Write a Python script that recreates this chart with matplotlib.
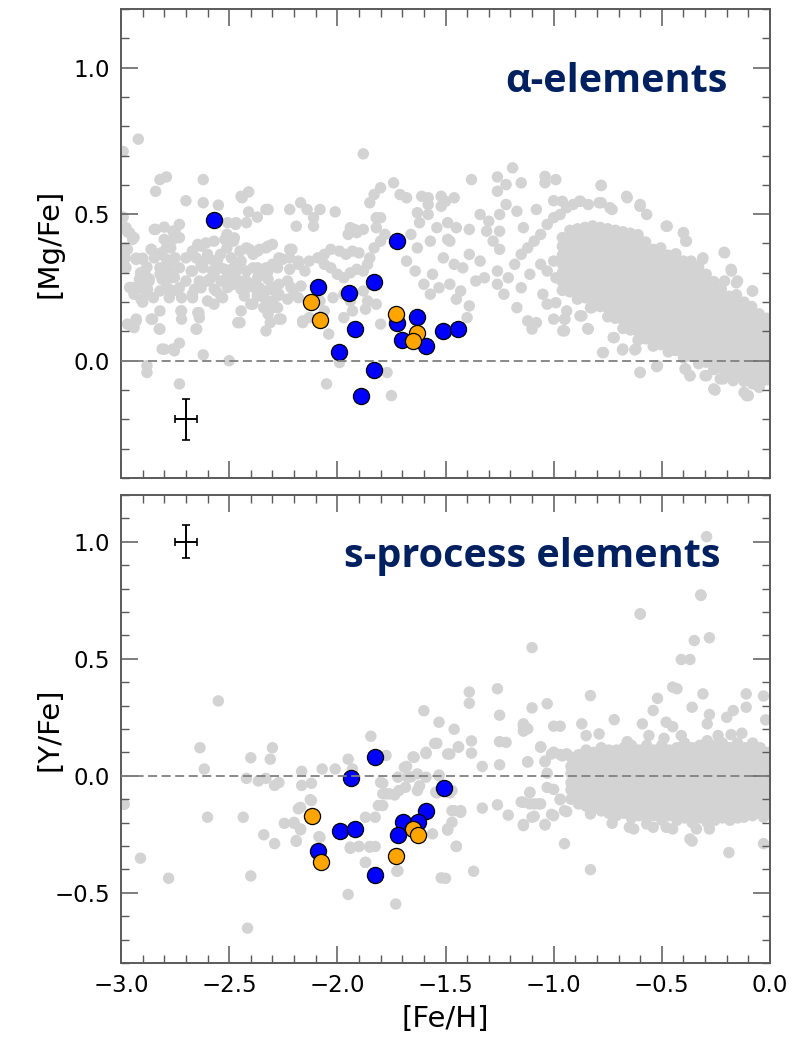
import matplotlib
matplotlib.use('Agg')
import matplotlib.pyplot as plt
import numpy as np
from matplotlib.ticker import MultipleLocator, FuncFormatter

# ---------------- data ----------------
# top panel: [Mg/Fe] vs [Fe/H]
mg_blue_feh = [-2.57, -2.09, -1.945, -1.918, -1.99, -1.83, -1.83, -1.89, -1.725,
               -1.723, -1.632, -1.703, -1.592, -1.51, -1.444]
mg_blue_val = [0.48, 0.25, 0.23, 0.11, 0.03, 0.27, -0.03, -0.12, 0.41,
               0.13, 0.15, 0.07, 0.05, 0.10, 0.11]
mg_orange_feh = [-2.122, -2.08, -1.73, -1.632, -1.652]
mg_orange_val = [0.20, 0.14, 0.16, 0.094, 0.068]

# scattered literature stars (halo + thick disc)
mg_halo = [
    (-2.99, 0.714), (-2.92, 0.756), (-2.99, 0.49), (-2.97, 0.44), (-2.94, 0.42), (-2.98, 0.385),
    (-2.98, 0.35), (-2.98, 0.32), (-2.93, 0.35), (-2.90, 0.35), (-2.88, 0.32), (-2.91, 0.30),
    (-2.87, 0.28), (-2.96, 0.25), (-2.91, 0.25), (-2.94, 0.227), (-2.90, 0.20), (-2.97, 0.125),
    (-2.93, 0.136), (-2.94, 0.113), (-2.84, 0.578), (-2.82, 0.618), (-2.79, 0.627), (-2.84, 0.448),
    (-2.80, 0.456), (-2.76, 0.442), (-2.73, 0.465), (-2.70, 0.546), (-2.62, 0.618), (-2.62, 0.539),
    (-2.55, 0.531), (-2.86, 0.38), (-2.82, 0.363), (-2.79, 0.385), (-2.76, 0.414), (-2.73, 0.42),
    (-2.76, 0.34), (-2.79, 0.317), (-2.82, 0.295), (-2.77, 0.283), (-2.73, 0.317), (-2.70, 0.351),
    (-2.67, 0.374), (-2.63, 0.391), (-2.60, 0.363), (-2.63, 0.329), (-2.67, 0.306), (-2.70, 0.272),
    (-2.73, 0.249), (-2.76, 0.238), (-2.79, 0.249), (-2.82, 0.238), (-2.85, 0.215), (-2.88, 0.227),
    (-2.72, 0.215), (-2.67, 0.227), (-2.63, 0.249), (-2.60, 0.272), (-2.57, 0.295), (-2.54, 0.317),
    (-2.57, 0.34), (-2.54, 0.363), (-2.51, 0.385), (-2.48, 0.408), (-2.51, 0.431), (-2.47, 0.465),
    (-2.44, 0.556), (-2.41, 0.576), (-2.41, 0.508), (-2.37, 0.490), (-2.33, 0.516), (-2.42, 0.471),
    (-2.45, 0.374), (-2.42, 0.385), (-2.39, 0.363), (-2.36, 0.380), (-2.33, 0.385), (-2.30, 0.397),
    (-2.48, 0.317), (-2.45, 0.329), (-2.42, 0.306), (-2.39, 0.317), (-2.36, 0.295), (-2.33, 0.317),
    (-2.30, 0.329), (-2.27, 0.351), (-2.51, 0.283), (-2.48, 0.261), (-2.45, 0.272), (-2.42, 0.249),
    (-2.39, 0.261), (-2.36, 0.249), (-2.33, 0.238), (-2.30, 0.249), (-2.27, 0.261), (-2.23, 0.272),
    (-2.56, 0.238), (-2.53, 0.215), (-2.60, 0.204), (-2.57, 0.193), (-2.43, 0.221), (-2.37, 0.221),
    (-2.34, 0.215), (-2.39, 0.193), (-2.34, 0.181), (-2.30, 0.204), (-2.27, 0.227), (-2.30, 0.181),
    (-2.32, 0.159), (-2.27, 0.142), (-2.31, 0.130), (-2.45, 0.130), (-2.40, 0.193), (-2.64, 0.164),
    (-2.72, 0.170), (-2.72, 0.142), (-2.82, 0.170), (-2.86, 0.142), (-2.82, 0.108), (-2.65, 0.108),
    (-2.81, 0.040), (-2.76, 0.040), (-2.73, 0.060), (-2.62, 0.020), (-2.88, -0.017), (-2.88, -0.040),
    (-2.73, -0.079), (-2.50, 0.0), (-2.33, 0.102), (-2.22, 0.516), (-2.17, 0.539), (-2.14, 0.516),
    (-2.08, 0.516), (-2.11, 0.488), (-2.11, 0.459), (-2.19, 0.459), (-2.01, 0.508), (-2.21, 0.380),
    (-2.18, 0.340), (-2.22, 0.351), (-2.15, 0.306), (-2.13, 0.340), (-2.09, 0.351), (-2.06, 0.363),
    (-2.03, 0.380), (-1.99, 0.374), (-1.96, 0.363), (-1.93, 0.374), (-1.90, 0.368), (-2.06, 0.329),
    (-2.03, 0.317), (-2.00, 0.295), (-1.97, 0.283), (-1.94, 0.300), (-1.91, 0.312), (-1.88, 0.306),
    (-1.86, 0.329), (-1.85, 0.351), (-1.83, 0.385), (-1.80, 0.408), (-1.78, 0.431), (-1.82, 0.454),
    (-1.94, 0.454), (-1.92, 0.448), (-1.88, 0.448), (-1.91, 0.437), (-1.95, 0.431), (-1.85, 0.539),
    (-1.83, 0.567), (-1.80, 0.590), (-1.74, 0.607), (-1.82, 0.488), (-1.80, 0.488), (-1.88, 0.706),
    (-2.20, 0.227), (-2.18, 0.215), (-2.16, 0.136), (-2.13, 0.147), (-2.04, 0.091), (-1.99, -0.006),
    (-1.77, -0.040), (-1.75, -0.119), (-2.05, -0.079), (-1.88, 0.238), (-1.86, 0.204), (-1.87, 0.176),
    (-1.82, 0.193), (-1.80, 0.125), (-2.02, 0.215), (-1.97, 0.227), (-1.94, 0.204), (-1.93, 0.170),
    (-1.97, 0.147), (-2.08, 0.204), (-2.06, 0.170),
    (-1.71, 0.567), (-1.68, 0.556), (-1.63, 0.505), (-1.61, 0.561), (-1.58, 0.556), (-1.58, 0.533),
    (-1.52, 0.561), (-1.50, 0.544), (-1.46, 0.556), (-1.52, 0.527), (-1.58, 0.499), (-1.62, 0.471),
    (-1.54, 0.454), (-1.49, 0.471), (-1.45, 0.454), (-1.39, 0.448), (-1.34, 0.499), (-1.66, 0.431),
    (-1.63, 0.385), (-1.57, 0.408), (-1.49, 0.414), (-1.48, 0.408), (-1.68, 0.340), (-1.64, 0.306),
    (-1.60, 0.261), (-1.56, 0.295), (-1.51, 0.351), (-1.46, 0.329), (-1.42, 0.317), (-1.39, 0.363),
    (-1.34, 0.340), (-1.36, 0.272), (-1.32, 0.283), (-1.53, 0.249), (-1.48, 0.261), (-1.57, 0.227),
    (-1.45, 0.210), (-1.39, 0.187), (-1.40, 0.147), (-1.43, 0.238), (-1.31, 0.442), (-1.30, 0.476),
    (-1.25, 0.499), (-1.26, 0.578), (-1.26, 0.627), (-1.22, 0.601), (-1.19, 0.658), (-1.15, 0.607),
    (-1.22, 0.533), (-1.17, 0.510), (-1.14, 0.454), (-1.08, 0.516), (-1.04, 0.629), (-1.04, 0.607),
    (-0.99, 0.618), (-1.00, 0.546), (-0.96, 0.544), (-1.38, 0.618), (-1.25, 0.442), (-1.28, 0.408),
    (-1.25, 0.380), (-1.26, 0.306), (-1.21, 0.283), (-1.26, 0.261), (-1.23, 0.227), (-1.18, 0.329),
    (-1.15, 0.363), (-1.12, 0.385), (-1.09, 0.408), (-1.06, 0.431), (-1.03, 0.465), (-1.00, 0.488),
    (-0.97, 0.499), (-0.94, 0.522), (-0.91, 0.533), (-0.88, 0.544), (-0.84, 0.533), (-0.78, 0.539),
    (-0.78, 0.598), (-1.15, 0.249), (-1.11, 0.295), (-1.06, 0.329), (-1.03, 0.306), (-1.00, 0.340),
    (-0.99, 0.283), (-0.94, 0.317), (-1.05, 0.227), (-1.17, 0.181), (-1.12, 0.136), (-1.10, 0.108),
    (-1.08, 0.130), (-1.03, 0.193), (-0.99, 0.198), (-0.94, 0.170), (-1.00, 0.142), (-0.95, 0.102),
    (-0.95, 0.142), (-0.87, 0.153), (-0.84, 0.108), (-0.83, 0.181), (-0.79, 0.210), (-0.77, 0.028),
    (-0.72, 0.079), (-0.68, 0.040), (-0.62, 0.040), (-0.60, -0.040), (-0.52, -0.017), (-0.73, 0.159),
    (-0.70, 0.187), (-0.74, 0.522), (-0.66, 0.556), (-0.60, 0.533), (-0.57, 0.499), (-0.48, 0.459),
    (-0.40, 0.437), (-0.39, 0.408), (-0.31, 0.351), (-0.21, 0.368), (-0.18, 0.312), (-0.15, 0.272),
    (-0.21, 0.272), (-0.08, 0.238), (-0.39, -0.028), (-0.37, -0.051), (-0.30, -0.051), (-0.26, -0.096),
    (-0.23, -0.062), (-0.17, -0.062), (-0.12, -0.108), (-0.10, -0.119), (-0.08, -0.079), (-0.05, -0.091),
    (-0.781, 0.598), (-0.663, 0.561), (-0.601, 0.527), (-0.73, 0.516), (-0.79, 0.539), (-0.876, 0.544),
    (-0.475, 0.459), (-0.40, 0.436), (-0.386, 0.408), (-0.312, 0.346), (-0.212, 0.370), (-0.178, 0.306),
    (-0.155, 0.266), (-0.082, 0.238), (-0.725, 0.079), (-0.774, 0.028), (-0.682, 0.037), (-0.625, 0.037),
    (-0.601, -0.040), (-0.524, -0.020), (-0.393, -0.028), (-0.37, -0.051), (-0.293, -0.051),
    (-0.254, -0.100), (-0.216, -0.062), (-0.17, -0.068), (-0.108, -0.119), (-0.047, -0.079),
    (-0.958, 0.102), (-0.843, 0.110), (-0.948, 0.142), (-0.878, 0.153), (-0.824, 0.181), (-0.73, 0.159),
    (-0.70, 0.187), (-0.863, 0.221), (-0.80, 0.215),
]

# extra stars in the crowded metal-poor plateau
mg_plateau = [
    (-2.445, 0.561), (-2.32, 0.516), (-2.977, 0.454), (-2.96, 0.436), (-2.846, 0.448), (-2.75, 0.442),
    (-2.80, 0.414), (-2.946, 0.414), (-2.645, 0.397), (-2.607, 0.402), (-2.57, 0.408), (-2.52, 0.414),
    (-2.476, 0.419), (-2.507, 0.471), (-2.468, 0.471), (-2.97, 0.380), (-2.86, 0.380), (-2.77, 0.385),
    (-2.815, 0.368), (-2.93, 0.346), (-2.90, 0.346), (-2.846, 0.351), (-2.79, 0.346), (-2.75, 0.351),
    (-2.653, 0.351), (-2.607, 0.346), (-2.553, 0.346), (-2.49, 0.351), (-2.445, 0.340), (-2.407, 0.380),
    (-2.368, 0.374), (-2.32, 0.391), (-2.22, 0.380), (-2.253, 0.346), (-2.977, 0.317), (-2.89, 0.306),
    (-2.82, 0.317), (-2.777, 0.306), (-2.676, 0.306), (-2.62, 0.317), (-2.576, 0.306), (-2.52, 0.312),
    (-2.468, 0.306), (-2.368, 0.317), (-2.32, 0.306), (-2.276, 0.317), (-2.22, 0.312), (-2.18, 0.329),
    (-2.915, 0.278), (-2.87, 0.272), (-2.81, 0.278), (-2.753, 0.284), (-2.638, 0.272), (-2.59, 0.278),
    (-2.538, 0.272), (-2.484, 0.284), (-2.42, 0.272), (-2.368, 0.284), (-2.32, 0.278), (-2.946, 0.250),
    (-2.877, 0.244), (-2.777, 0.244), (-2.66, 0.244), (-2.569, 0.244), (-2.507, 0.250), (-2.445, 0.244),
    (-2.384, 0.250), (-2.307, 0.244), (-2.214, 0.250), (-2.168, 0.255), (-2.908, 0.210), (-2.777, 0.215),
    (-2.669, 0.215), (-2.538, 0.221), (-2.276, 0.221), (-2.23, 0.210), (-2.723, 0.170), (-2.645, 0.164),
    (-2.445, 0.170), (-2.32, 0.187), (-2.276, 0.181), (-2.93, 0.142), (-2.854, 0.142), (-2.638, 0.147),
    (-2.46, 0.130), (-2.26, 0.142), (-2.16, 0.130), (-2.954, 0.119), (-2.823, 0.108), (-2.653, 0.108),
    (-2.80, 0.039), (-2.753, 0.034),
]

# dense thin-disc clump: column position and the stars stacked in it
mg_disk_cols = [
    (-0.960, [0.24, 0.27, 0.30, 0.33, 0.36, 0.39, 0.42]),
    (-0.925, [0.235, 0.265, 0.295, 0.325, 0.355, 0.385, 0.415, 0.445]),
    (-0.890, [0.21, 0.24, 0.27, 0.30, 0.33, 0.36, 0.39, 0.42, 0.45]),
    (-0.855, [0.215, 0.245, 0.275, 0.305, 0.335, 0.365, 0.395, 0.425, 0.455]),
    (-0.820, [0.19, 0.22, 0.25, 0.28, 0.31, 0.34, 0.37, 0.40, 0.43, 0.46]),
    (-0.785, [0.185, 0.215, 0.245, 0.275, 0.305, 0.335, 0.365, 0.395, 0.425, 0.455]),
    (-0.750, [0.15, 0.18, 0.21, 0.24, 0.27, 0.30, 0.33, 0.36, 0.39, 0.42, 0.45]),
    (-0.715, [0.145, 0.175, 0.205, 0.235, 0.265, 0.295, 0.325, 0.355, 0.385, 0.415, 0.445]),
    (-0.680, [0.11, 0.14, 0.17, 0.20, 0.23, 0.26, 0.29, 0.32, 0.35, 0.38, 0.41, 0.44]),
    (-0.645, [0.105, 0.135, 0.165, 0.195, 0.225, 0.255, 0.285, 0.315, 0.345, 0.375, 0.405, 0.435]),
    (-0.610, [0.07, 0.10, 0.13, 0.16, 0.19, 0.22, 0.25, 0.28, 0.31, 0.34, 0.37, 0.40, 0.43]),
    (-0.575, [0.075, 0.105, 0.135, 0.165, 0.195, 0.225, 0.255, 0.285, 0.315, 0.345, 0.375, 0.405]),
    (-0.540, [0.05, 0.08, 0.11, 0.14, 0.17, 0.20, 0.23, 0.26, 0.29, 0.32, 0.35, 0.38]),
    (-0.505, [0.055, 0.085, 0.115, 0.145, 0.175, 0.205, 0.235, 0.265, 0.295, 0.325, 0.355, 0.385]),
    (-0.470, [0.03, 0.06, 0.09, 0.12, 0.15, 0.18, 0.21, 0.24, 0.27, 0.30, 0.33, 0.36]),
    (-0.435, [0.035, 0.065, 0.095, 0.125, 0.155, 0.185, 0.215, 0.245, 0.275, 0.305, 0.335, 0.365]),
    (-0.400, [0.01, 0.04, 0.07, 0.10, 0.13, 0.16, 0.19, 0.22, 0.25, 0.28, 0.31, 0.34]),
    (-0.365, [0.015, 0.045, 0.075, 0.105, 0.135, 0.165, 0.195, 0.225, 0.255, 0.285, 0.315, 0.34]),
    (-0.330, [-0.01, 0.02, 0.05, 0.08, 0.11, 0.14, 0.17, 0.20, 0.23, 0.26, 0.29, 0.32]),
    (-0.295, [-0.005, 0.025, 0.055, 0.085, 0.115, 0.145, 0.175, 0.205, 0.235, 0.265, 0.295]),
    (-0.260, [-0.03, 0.00, 0.03, 0.06, 0.09, 0.12, 0.15, 0.18, 0.21, 0.24, 0.27]),
    (-0.225, [-0.025, 0.005, 0.035, 0.065, 0.095, 0.125, 0.155, 0.185, 0.215, 0.245]),
    (-0.190, [-0.05, -0.02, 0.01, 0.04, 0.07, 0.10, 0.13, 0.16, 0.19, 0.22]),
    (-0.155, [-0.045, -0.015, 0.015, 0.045, 0.075, 0.105, 0.135, 0.165, 0.195, 0.225]),
    (-0.120, [-0.07, -0.04, -0.01, 0.02, 0.05, 0.08, 0.11, 0.14, 0.17, 0.20]),
    (-0.085, [-0.055, -0.025, 0.005, 0.035, 0.065, 0.095, 0.125, 0.155, 0.185]),
    (-0.050, [-0.08, -0.05, -0.02, 0.01, 0.04, 0.07, 0.10, 0.13, 0.16]),
    (-0.015, [-0.065, -0.035, -0.005, 0.025, 0.055, 0.085, 0.115, 0.145]),
]

# bottom panel: [Y/Fe] vs [Fe/H]
y_blue_feh = [-1.826, -1.938, -1.507, -1.590, -1.695, -1.626, -1.718, -1.988, -1.917, -2.088, -1.826]
y_blue_val = [0.079, -0.011, -0.052, -0.152, -0.199, -0.199, -0.253, -0.237, -0.227, -0.320, -0.426]
y_orange_feh = [-2.116, -1.649, -1.626, -2.075, -1.727]
y_orange_val = [-0.170, -0.227, -0.253, -0.370, -0.341]

y_halo = [
    (-2.55, 0.320), (-2.635, 0.120), (-2.615, 0.029), (-2.40, 0.077), (-2.31, 0.071), (-2.30, 0.120),
    (-2.42, -0.011), (-2.365, -0.022), (-2.33, -0.011), (-2.29, -0.041), (-2.27, -0.029), (-2.165, 0.019),
    (-2.165, -0.041), (-2.12, -0.032), (-2.07, 0.029), (-2.01, 0.029), (-1.95, 0.071), (-1.93, 0.029),
    (-1.845, 0.169), (-1.775, 0.087), (-1.79, -0.032), (-1.79, -0.077), (-1.775, -0.077), (-1.735, -0.082),
    (-1.79, -0.127), (-2.125, -0.102), (-2.17, -0.135), (-2.60, -0.177), (-2.435, -0.177), (-2.245, -0.203),
    (-2.20, -0.203), (-2.17, -0.231), (-2.34, -0.252), (-2.29, -0.290), (-2.19, -0.280), (-2.085, -0.260),
    (-1.87, -0.177), (-1.825, -0.177), (-1.94, -0.310), (-1.90, -0.302), (-1.85, -0.302), (-1.825, -0.302),
    (-1.87, -0.370), (-1.725, -0.408), (-1.95, -0.507), (-1.73, -0.548), (-2.40, -0.428), (-2.415, -0.651),
    (-2.91, -0.352), (-2.78, -0.438), (-2.985, -0.122),
    (-1.645, 0.079), (-1.59, 0.10), (-1.54, 0.139), (-1.49, 0.093), (-1.44, 0.122), (-1.69, 0.036),
    (-1.72, -0.006), (-1.675, -0.006), (-1.63, 0.008), (-1.59, -0.006), (-1.53, 0.001), (-1.80, -0.028),
    (-1.76, -0.077), (-1.715, -0.063), (-1.685, -0.049), (-1.63, -0.063), (-1.545, -0.070), (-1.47, -0.063),
    (-1.81, -0.127), (-1.47, -0.149), (-1.43, -0.149), (-1.47, -0.199), (-1.49, -0.227), (-1.56, -0.248),
    (-1.45, -0.302), (-1.94, -0.305), (-1.90, -0.302), (-1.85, -0.305), (-1.87, -0.370), (-1.72, -0.406),
    (-1.52, -0.436), (-2.12, -0.106), (-2.18, -0.141), (-2.20, -0.199), (-2.17, -0.227), (-2.19, -0.277),
    (-2.08, -0.263),
    (-0.293, 1.022), (-0.319, 0.771), (-0.60, 0.691), (-1.10, 0.548), (-1.39, 0.358), (-1.39, 0.310),
    (-1.26, 0.372), (-1.60, 0.278), (-1.25, 0.259), (-1.53, 0.229), (-1.46, 0.199), (-1.55, 0.138),
    (-1.59, 0.095), (-1.65, 0.081), (-1.48, 0.093), (-1.44, 0.124), (-1.38, 0.149), (-1.38, 0.097),
    (-1.25, 0.146), (-1.22, 0.143), (-1.25, 0.047), (-1.33, 0.040), (-1.12, 0.059), (-1.14, 0.214),
    (-1.14, 0.191), (-1.06, 0.124), (-1.04, 0.063), (-1.01, 0.093), (-0.96, 0.085), (-1.00, 0.212),
    (-0.97, 0.212), (-1.03, 0.308), (-1.10, 0.290), (-1.68, 0.040), (-1.66, -0.005), (-1.62, -0.043),
    (-1.53, 0.003), (-1.54, -0.073), (-1.48, -0.073), (-1.46, -0.149), (-1.43, -0.156), (-1.49, -0.232),
    (-1.45, -0.301), (-1.37, -0.408), (-1.50, -0.438), (-1.26, -0.124), (-1.33, -0.138), (-1.21, -0.168),
    (-1.15, -0.112), (-1.11, -0.071), (-1.11, -0.120), (-1.07, -0.120), (-1.09, -0.173), (-1.14, -0.208),
    (-1.04, -0.208), (-0.97, -0.100), (-1.01, -0.165), (-0.94, -0.153), (-0.95, -0.290), (-0.83, -0.401),
    (-0.19, -0.328), (-0.03, -0.290), (-0.36, -0.279),
    (-0.60, 0.692), (-0.32, 0.773), (-0.35, 0.578), (-0.28, 0.590), (-0.41, 0.497), (-0.37, 0.497),
    (-0.45, 0.379), (-0.43, 0.372), (-0.31, 0.350), (-0.83, 0.343), (-0.52, 0.331), (-0.54, 0.279),
    (-0.36, 0.293), (-0.11, 0.350), (-0.03, 0.341), (-0.11, 0.293), (-0.28, 0.262), (-0.29, 0.222),
    (-0.17, 0.279), (-0.20, 0.250), (-0.02, 0.239), (-0.72, 0.240), (-0.59, 0.222), (-0.48, 0.229),
    (-0.45, 0.210), (-0.87, 0.222), (-1.14, 0.222), (-1.12, 0.201), (-0.41, 0.172), (-0.24, 0.172),
    (-0.18, 0.176), (-0.13, 0.182), (-0.66, 0.146), (-0.79, 0.179), (-0.85, 0.172), (-0.56, 0.172),
    (-0.49, 0.160), (-1.06, 0.122), (-1.00, 0.101), (-0.97, 0.091), (-0.94, 0.094), (-1.12, 0.060),
    (-1.04, 0.060), (-1.03, 0.011), (-1.03, -0.050), (-1.00, -0.058), (-1.11, -0.071), (-0.97, -0.102),
    (-1.14, -0.113), (-1.09, -0.120), (-1.06, -0.120), (-0.95, -0.149), (-1.00, -0.170), (-1.10, -0.177),
    (-1.04, -0.210), (-1.14, -0.213), (-0.73, -0.203), (-0.65, -0.220), (-0.63, -0.227), (-0.57, -0.206),
    (-0.54, -0.220), (-0.48, -0.220), (-0.45, -0.227), (-0.34, -0.227), (-0.28, -0.227), (-0.37, -0.270),
    (-0.18, -0.170), (-0.12, -0.177), (-0.03, -0.177), (-0.83, -0.163),
]

y_disk_cols = [
    (-0.920, [-0.10, -0.06, -0.03, 0.01, 0.04, 0.08]),
    (-0.885, [-0.12, -0.08, -0.05, -0.01, 0.02, 0.06, 0.09]),
    (-0.850, [-0.13, -0.10, -0.06, -0.03, 0.01, 0.04, 0.08, 0.11]),
    (-0.815, [-0.14, -0.11, -0.07, -0.04, 0.00, 0.03, 0.07, 0.10]),
    (-0.780, [-0.15, -0.12, -0.08, -0.05, -0.01, 0.02, 0.06, 0.09, 0.12]),
    (-0.745, [-0.16, -0.13, -0.09, -0.06, -0.02, 0.01, 0.05, 0.08, 0.11]),
    (-0.710, [-0.17, -0.14, -0.10, -0.07, -0.03, 0.00, 0.04, 0.07, 0.11]),
    (-0.675, [-0.16, -0.12, -0.09, -0.05, -0.02, 0.02, 0.05, 0.09, 0.12]),
    (-0.640, [-0.18, -0.14, -0.11, -0.07, -0.04, 0.00, 0.03, 0.07, 0.10, 0.13]),
    (-0.605, [-0.17, -0.13, -0.10, -0.06, -0.03, 0.01, 0.04, 0.08, 0.11]),
    (-0.570, [-0.18, -0.15, -0.11, -0.08, -0.04, -0.01, 0.03, 0.06, 0.10, 0.13]),
    (-0.535, [-0.17, -0.13, -0.10, -0.06, -0.03, 0.01, 0.04, 0.08, 0.11]),
    (-0.500, [-0.19, -0.15, -0.12, -0.08, -0.05, -0.01, 0.02, 0.06, 0.09, 0.13]),
    (-0.465, [-0.17, -0.14, -0.10, -0.07, -0.03, 0.00, 0.04, 0.07, 0.11]),
    (-0.430, [-0.19, -0.16, -0.12, -0.09, -0.05, -0.02, 0.02, 0.05, 0.09, 0.12]),
    (-0.395, [-0.18, -0.14, -0.11, -0.07, -0.04, 0.00, 0.03, 0.07, 0.10, 0.14]),
    (-0.360, [-0.20, -0.16, -0.13, -0.09, -0.06, -0.02, 0.01, 0.05, 0.08, 0.12]),
    (-0.325, [-0.18, -0.15, -0.11, -0.08, -0.04, -0.01, 0.03, 0.06, 0.10, 0.13]),
    (-0.290, [-0.20, -0.17, -0.13, -0.10, -0.06, -0.03, 0.01, 0.04, 0.08, 0.11, 0.15]),
    (-0.255, [-0.19, -0.15, -0.12, -0.08, -0.05, -0.01, 0.02, 0.06, 0.09, 0.13]),
    (-0.220, [-0.18, -0.14, -0.11, -0.07, -0.04, 0.00, 0.03, 0.07, 0.10, 0.14]),
    (-0.185, [-0.19, -0.16, -0.12, -0.09, -0.05, -0.02, 0.02, 0.05, 0.09, 0.12]),
    (-0.150, [-0.18, -0.14, -0.11, -0.07, -0.04, 0.00, 0.03, 0.07, 0.10, 0.14]),
    (-0.115, [-0.16, -0.13, -0.09, -0.06, -0.02, 0.01, 0.05, 0.08, 0.12]),
    (-0.080, [-0.17, -0.14, -0.10, -0.07, -0.03, 0.00, 0.04, 0.07, 0.11, 0.14]),
    (-0.045, [-0.16, -0.12, -0.09, -0.05, -0.02, 0.02, 0.05, 0.09, 0.12]),
    (-0.010, [-0.15, -0.11, -0.08, -0.04, -0.01, 0.03, 0.06, 0.10]),
]

# typical uncertainties (x, y, xerr, yerr)
mg_err = (-2.70, -0.20, 0.05, 0.07)
y_err = (-2.70, 1.00, 0.05, 0.07)


def expand(halo, cols):
    xs = [p[0] for p in halo]
    ys = [p[1] for p in halo]
    for cx, cy in cols:
        xs += [cx] * len(cy)
        ys += list(cy)
    return np.array(xs), np.array(ys)


def fmt(v, pos):
    if abs(v) < 1e-9:
        v = 0.0
    return f'{v:.1f}'.replace('-', '\u2212')


GRAY = '#d3d3d3'
NAVY = '#002060'
SPINE = '#5a5a5a'

fig = plt.figure(figsize=(7.92, 10.37), dpi=100)
ax1 = fig.add_axes([121/792, 1-478/1037, 649/792, 469/1037])
ax2 = fig.add_axes([121/792, 1-963/1037, 649/792, 468/1037])

panels = [
    (ax1, expand(mg_halo + mg_plateau, mg_disk_cols), mg_blue_feh, mg_blue_val, mg_orange_feh,
     mg_orange_val, mg_err, (-0.4, 1.2), '[Mg/Fe]', '\u03b1-elements', 0.935, 0.822),
    (ax2, expand(y_halo, y_disk_cols), y_blue_feh, y_blue_val, y_orange_feh, y_orange_val,
     y_err, (-0.8, 1.2), '[Y/Fe]', 's-process elements', 0.923, 0.846),
]

for ax, (gx, gy), bx, by, ox, oy, err, ylim, ylab, title, tx, ty in panels:
    ax.scatter(gx, gy, s=68, color=GRAY, edgecolors='none', zorder=1)
    ax.scatter(bx, by, s=135, color='#0000ff', edgecolors='black', linewidths=0.9, zorder=3)
    ax.scatter(ox, oy, s=135, color='#ffa500', edgecolors='black', linewidths=0.9, zorder=4)
    ax.axhline(0.0, color='#808080', ls=(0, (5, 2.5)), lw=1.3, zorder=5)
    ax.errorbar(err[0], err[1], xerr=err[2], yerr=err[3], fmt='none', ecolor='black',
                elinewidth=1.4, capsize=3, capthick=1.2, zorder=6)

    ax.set_xlim(-3.0, 0.0)
    ax.set_ylim(*ylim)
    ax.xaxis.set_major_locator(MultipleLocator(0.5))
    ax.xaxis.set_minor_locator(MultipleLocator(0.1))
    ax.yaxis.set_major_locator(MultipleLocator(0.5))
    ax.yaxis.set_minor_locator(MultipleLocator(0.1))
    ax.xaxis.set_major_formatter(FuncFormatter(fmt))
    ax.yaxis.set_major_formatter(FuncFormatter(fmt))
    ax.tick_params(which='both', direction='in', top=True, right=True, color=SPINE,
                   labelsize=16.5, pad=8)
    ax.tick_params(which='major', length=12, width=1.1)
    ax.tick_params(which='minor', length=6, width=1.0)
    for sp in ax.spines.values():
        sp.set_color(SPINE)
        sp.set_linewidth(1.4)

    ax.set_ylabel(ylab, fontsize=21)
    ax.yaxis.set_label_coords(-0.089, 0.5)
    ax.text(tx, ty, title, transform=ax.transAxes, ha='right', va='baseline',
            fontsize=28.5, fontweight='bold', color=NAVY, family=['Open Sans', 'DejaVu Sans'])

ax1.tick_params(labelbottom=False)
ax2.set_xlabel('[Fe/H]', fontsize=21)
ax2.xaxis.set_label_coords(0.5, -0.09)

fig.savefig('out.png', dpi=100)
